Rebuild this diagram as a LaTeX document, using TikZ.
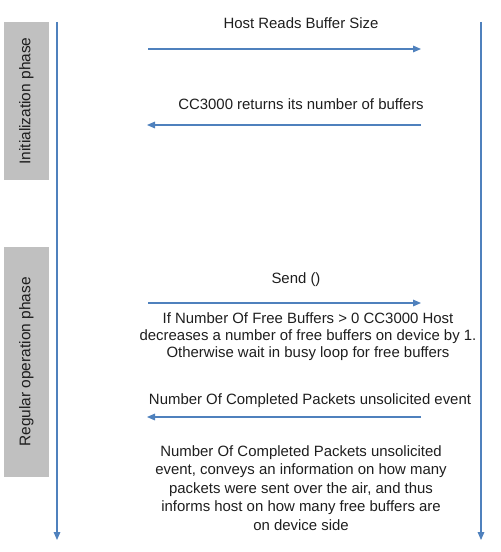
\documentclass[tikz,border=0pt]{standalone}
\usepackage{fontspec}
\setmainfont{Liberation Sans}
\usetikzlibrary{arrows.meta}
\definecolor{lineblue}{RGB}{79,129,189}
\definecolor{phasegray}{RGB}{192,192,192}
\definecolor{txt}{RGB}{30,30,30}
\begin{document}
\begin{tikzpicture}[x=0.75pt,y=-0.75pt,
  life/.style={draw=lineblue,line width=0.8pt,-{Triangle[length=6pt,width=5pt]}},
  msg/.style={draw=lineblue,line width=0.8pt,-{Triangle[length=6pt,width=5pt]}},
  phase/.style={fill=phasegray,draw=none,minimum width=45*0.75pt,inner sep=0pt},
  phasetxt/.style={rotate=90,font=\fontsize{11.6pt}{13pt}\selectfont,text=txt},
  lbl/.style={font=\fontsize{11.2pt}{13.9pt}\selectfont,text=txt,align=center,inner sep=0pt}]
\useasboundingbox (0,0) rectangle (500,552);
% lifelines
\coordinate (hostTop) at (57,22);
\coordinate (hostBot) at (57,540);
\coordinate (devTop) at (481,22);
\coordinate (devBot) at (481,540);
\draw[life] (hostTop) -- (hostBot);
\draw[life] (devTop) -- (devBot);
% phase boxes
\node[phase,minimum height=158*0.75pt] (initbox) at (26.5,101) {};
\node[phasetxt] (inittxt) at (initbox.center) {Initialization phase};
\node[phase,minimum height=230*0.75pt] (regbox) at (26.5,362) {};
\node[phasetxt] (regtxt) at (regbox.center) {Regular operation phase};
% messages
\coordinate (m1s) at (148,49);  \coordinate (m1e) at (421,49);
\coordinate (m2s) at (421,125); \coordinate (m2e) at (147,125);
\coordinate (m3s) at (148,303); \coordinate (m3e) at (421,303);
\coordinate (m4s) at (421,417); \coordinate (m4e) at (147,417);
\draw[msg] (m1s) -- (m1e);
\draw[msg] (m2s) -- (m2e);
\draw[msg] (m3s) -- (m3e);
\draw[msg] (m4s) -- (m4e);
% labels
\node[lbl] (l1) at (301,23) {Host Reads Buffer Size};
\node[lbl] (l2) at (301,104) {CC3000 returns its number of buffers};
\node[lbl] (l3) at (296,280) {Send ()};
\node[lbl,font=\fontsize{11.2pt}{12.8pt}\selectfont] (l4) at (308,337) {If Number Of Free Buffers > 0 CC3000 Host\\decreases a number of free buffers on device by 1.\\Otherwise wait in busy loop for free buffers};
\node[lbl] (l5) at (310,401) {Number Of Completed Packets unsolicited event};
\node[lbl] (l6) at (301,488) {Number Of Completed Packets unsolicited\\event, conveys an information on how many\\packets were sent over the air, and thus\\informs host on how many free buffers are\\on device side};
\end{tikzpicture}
\end{document}
